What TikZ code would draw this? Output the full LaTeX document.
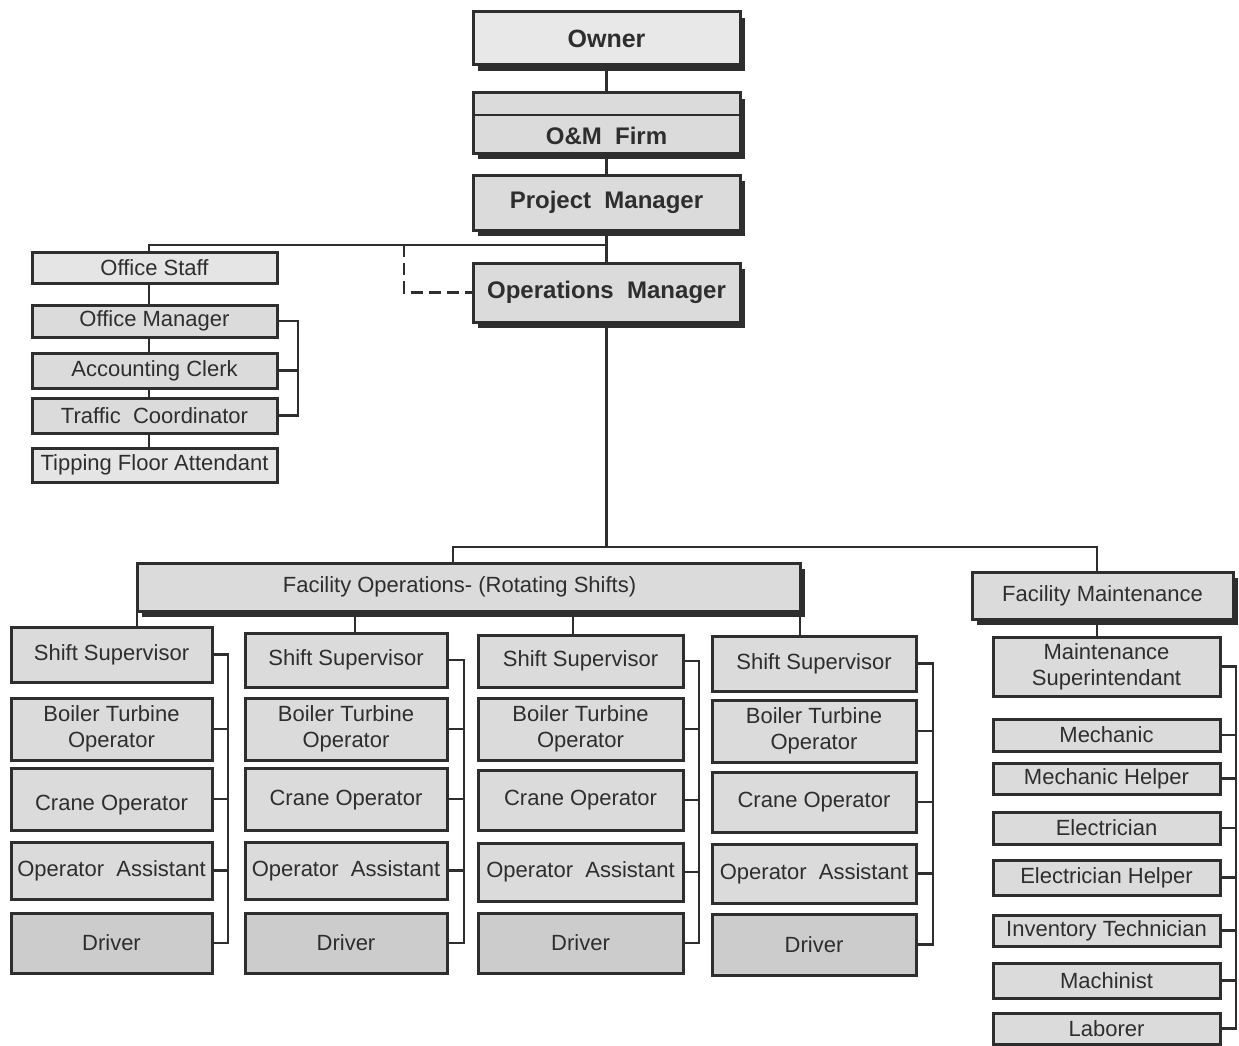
\documentclass[tikz,border=0pt]{standalone}
\usepackage{fontspec}
\setmainfont{Liberation Sans}
\usetikzlibrary{shadows}
\newcommand\lblfont{\fontsize{22}{26}\selectfont}
\newcommand\hdrfont{\fontsize{24}{28}\selectfont\bfseries}
\definecolor{ink}{HTML}{2E2E2E}
\newcommand\bx[7]{%
  \pgfmathsetmacro\bxcx{(#3+#5)/2}%
  \pgfmathsetmacro\bxcy{(#4+#6)/2}%
  \pgfmathsetmacro\bxw{#5-#3}%
  \pgfmathsetmacro\bxh{#6-#4}%
  \node[#1, minimum width=\bxw pt, minimum height=\bxh pt] (#2) at (\bxcx,\bxcy) {#7};}
\begin{document}
\begin{tikzpicture}[x=1pt,y=-1pt,
  box/.style={draw=ink, line width=3pt, fill=black!14, inner sep=0pt, align=center, font=\lblfont, text=ink, anchor=center},
  drvbox/.style={box, fill=black!20},
  hdrbox/.style={box, font=\hdrfont, drop shadow={shadow xshift=5pt, shadow yshift=-6pt, fill=ink, opacity=1}},
  regshadow/.style={box, drop shadow={shadow xshift=5pt, shadow yshift=-6pt, fill=ink, opacity=1}},
  conn/.style={draw=ink, line width=2.8pt},
  dashconn/.style={conn, dash pattern=on 12pt off 6pt}]
\useasboundingbox (0,0) rectangle (1239,1046);

% ---- top chain ----
\bx{hdrbox, fill=black!9, font=\fontsize{25}{28}\selectfont\bfseries}{owner}{473}{12}{740}{65}{Owner}
\bx{hdrbox}{omf}{473}{93}{740}{153}{\raisebox{-22pt}[0pt][0pt]{O\&M\ \ Firm}}
\coordinate (omline) at (0,115);
\draw[draw=ink, line width=2.4pt] (omf.west |- omline) -- (omf.east |- omline);
\bx{hdrbox}{pm}{473}{175}{740}{230}{Project\ \ Manager}
\bx{hdrbox}{opm}{473}{263}{740}{322}{Operations\ \ Manager}

\draw[conn] (owner.south) -- (omf.north);
\draw[conn] (omf.south) -- (pm.north);
\draw[conn] (pm.south) -- (opm.north);

% ---- office staff ----
\bx{box, fill=black!10}{staff}{32}{252}{277}{283}{Office Staff}
\bx{box}{ofm}{32}{305}{277}{337}{Office Manager}
\bx{box}{acc}{32}{353}{277}{388}{Accounting Clerk}
\bx{box}{trf}{32}{398}{277}{433}{Traffic\ \ Coordinator}
\bx{box, fill=black!10}{tip}{32}{448}{277}{482}{Tipping Floor Attendant}

\coordinate (jpm) at (606,245);
\coordinate (jst) at (149,245);
\coordinate (jdash) at (404,245);
\draw[conn] (pm.south |- jpm) -- (jst) -- (jst |- staff.north);
\draw[dashconn] (jdash) |- (opm.west);
\draw[conn] (jst |- staff.south) -- (jst |- ofm.north);
\draw[conn] (jst |- ofm.south) -- (jst |- acc.north);
\draw[conn] (jst |- acc.south) -- (jst |- trf.north);
\draw[conn] (jst |- trf.south) -- (jst |- tip.north);
\coordinate (bro) at (298,0);
\draw[conn] (ofm.east) -- (ofm.east -| bro) -- (trf.east -| bro) -- (trf.east);
\draw[conn] (acc.east) -- (acc.east -| bro);

% ---- second level ----
\bx{regshadow}{fops}{137}{563}{800}{611}{\hspace*{-18pt}Facility Operations- (Rotating Shifts)}
\bx{regshadow}{fm}{972}{572}{1233}{619}{Facility Maintenance}

\coordinate (jl) at (453,547);
\coordinate (jr) at (1097,547);
\draw[conn] (opm.south) -- (opm.south |- jl);
\draw[conn] (jl |- fops.north) -- (jl) -- (jr) -- (jr |- fm.north);

% ---- shift columns ----
% column 1
\bx{box}{ssa}{11}{627}{212}{682}{Shift Supervisor}
\bx{box}{bta}{11}{698}{212}{760}{Boiler Turbine\\Operator}
\bx{box}{coa}{11}{768}{212}{830}{\raisebox{-11pt}[0pt][0pt]{Crane Operator}}
\bx{box}{oaa}{11}{842}{212}{899}{Operator\ \ Assistant}
\bx{drvbox}{dra}{11}{913}{212}{973}{Driver}
% column 2
\bx{box}{ssb}{245}{633}{447}{687}{Shift Supervisor}
\bx{box}{btb}{245}{698}{447}{760}{Boiler Turbine\\Operator}
\bx{box}{cob}{245}{768}{447}{830}{\raisebox{-6pt}[0pt][0pt]{Crane Operator}}
\bx{box}{oab}{245}{842}{447}{899}{Operator\ \ Assistant}
\bx{drvbox}{drb}{245}{913}{447}{973}{Driver}
% column 3
\bx{box}{ssc}{478}{635}{683}{687}{Shift Supervisor}
\bx{box}{btc}{478}{698}{683}{760}{Boiler Turbine\\Operator}
\bx{box}{coc}{478}{770}{683}{830}{Crane Operator}
\bx{box}{oac}{478}{843}{683}{901}{Operator\ \ Assistant}
\bx{drvbox}{drc}{478}{913}{683}{973}{Driver}
% column 4
\bx{box}{ssd}{712}{636}{916}{691}{Shift Supervisor}
\bx{box}{btd}{712}{700}{916}{762}{Boiler Turbine\\Operator}
\bx{box}{cod}{712}{772}{916}{832}{Crane Operator}
\bx{box}{oad}{712}{844}{916}{903}{Operator\ \ Assistant}
\bx{drvbox}{drd}{712}{914}{916}{975}{Driver}

% feeders from Facility Operations
\coordinate (ca) at (137,0);
\coordinate (cb) at (355,0);
\coordinate (cc) at (573,0);
\coordinate (cd) at (800,0);
\draw[conn] (ca |- fops.south) -- (ca |- ssa.north);
\draw[conn] (cb |- fops.south) -- (cb |- ssb.north);
\draw[conn] (cc |- fops.south) -- (cc |- ssc.north);
\draw[conn] (cd |- fops.south) -- (cd |- ssd.north);

% brackets
\foreach \c/\bxx in {a/228,b/464,c/699,d/933}{
  \coordinate (br\c) at (\bxx,0);
  \draw[conn] (ss\c.east) -- (ss\c.east -| br\c) -- (dr\c.east -| br\c) -- (dr\c.east);
  \draw[conn] (bt\c.east) -- (bt\c.east -| br\c);
  \draw[conn] (co\c.east) -- (co\c.east -| br\c);
  \draw[conn] (oa\c.east) -- (oa\c.east -| br\c);
}

% ---- maintenance column ----
\bx{box}{ms}{993}{637}{1220}{696}{Maintenance\\Superintendant}
\bx{box}{mech}{993}{719}{1220}{751}{Mechanic}
\bx{box}{mh}{993}{763}{1220}{794}{Mechanic Helper}
\bx{box}{el}{993}{812}{1220}{844}{Electrician}
\bx{box}{eh}{993}{860}{1220}{895}{Electrician Helper}
\bx{box}{it}{993}{915}{1220}{946}{Inventory Technician}
\bx{box}{mach}{993}{963}{1220}{998}{Machinist}
\bx{box}{lab}{993}{1013}{1220}{1044}{Laborer}

\draw[conn] (jr |- fm.south) -- (jr |- ms.north);
\coordinate (brm) at (1236,0);
\draw[conn] (ms.east) -- (ms.east -| brm) -- (lab.east -| brm) -- (lab.east);
\foreach \n in {mech,mh,el,eh,it,mach}{
  \draw[conn] (\n.east) -- (\n.east -| brm);
}
\end{tikzpicture}
\end{document}
